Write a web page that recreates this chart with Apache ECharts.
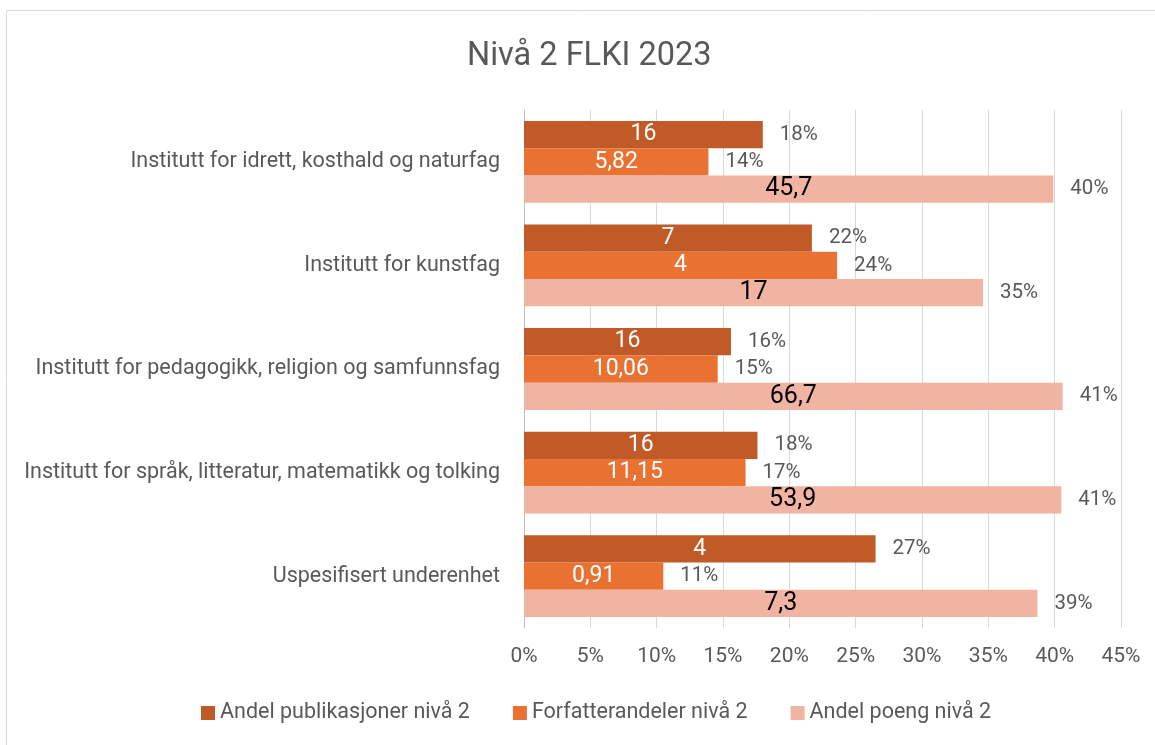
<!DOCTYPE html>
<html>
<head>
<meta charset="utf-8">
<script src="https://cdn.jsdelivr.net/npm/echarts@6/dist/echarts.min.js"></script>
<style>
  html, body { margin: 0; padding: 0; background: #fff; }
  #chart { width: 1155px; height: 745px; }
</style>
</head>
<body>
<div id="chart"></div>
<script>
var chart = echarts.init(document.getElementById('chart'));

var categories = [
    'Institutt for idrett, kosthald og naturfag',
    'Institutt for kunstfag',
    'Institutt for pedagogikk, religion og samfunnsfag',
    'Institutt for språk, litteratur, matematikk og tolking',
    'Uspesifisert underenhet'
];
var seriesNames = ['Andel publikasjoner nivå 2', 'Forfatterandeler nivå 2', 'Andel poeng nivå 2'];

// andeler (bar length)
var andelPublikasjoner = [0.180, 0.217, 0.156, 0.176, 0.265];
var andelForfatter = [0.139, 0.236, 0.146, 0.167, 0.105];
var andelPoeng = [0.399, 0.346, 0.406, 0.405, 0.387];

// antall (labels inside bars)
var antallPublikasjoner = [16, 7, 16, 16, 4];
var antallForfatter = [5.82, 4, 10.06, 11.15, 0.91];
var antallPoeng = [45.7, 17, 66.7, 53.9, 7.3];

var xTicks = [0, 0.05, 0.10, 0.15, 0.20, 0.25, 0.30, 0.35, 0.40, 0.45];

var colors = ['#C05B28', '#E97132', '#F1B3A2'];
var insideColors = ['#ffffff', '#ffffff', '#000000'];
var insideSizes = [23, 23, 25];
var textGray = '#595959';
var font = 'Roboto';

function komma(v) {
    return String(v).replace('.', ',');
}

var shares = [andelPublikasjoner, andelForfatter, andelPoeng];
var counts = [antallPublikasjoner, antallForfatter, antallPoeng];

var series = [];
shares.forEach(function (vals, i) {
    series.push({
        name: seriesNames[i],
        type: 'bar',
        stack: 's' + i,
        data: vals,
        itemStyle: { color: colors[i] },
        label: {
            show: true,
            position: 'inside',
            fontSize: insideSizes[i],
            fontFamily: font,
            color: insideColors[i],
            formatter: function (p) { return komma(counts[i][p.dataIndex]); }
        }
    });
});
// zero-width stacked bars that carry the percentage labels at bar ends
shares.forEach(function (vals, i) {
    series.push({
        name: seriesNames[i] + ' %',
        type: 'bar',
        stack: 's' + i,
        data: vals.map(function () { return 0; }),
        itemStyle: { color: 'transparent' },
        label: {
            show: true,
            position: 'right',
            distance: 17,
            fontSize: 20.5,
            fontFamily: font,
            color: textGray,
            formatter: function (p) { return Math.round(vals[p.dataIndex] * 100) + '%'; }
        }
    });
});

var option = {
    animation: false,
    backgroundColor: '#fff',
    title: {
        text: 'Nivå 2 FLKI 2023',
        left: 462,
        top: 35,
        textStyle: { fontSize: 32.5, fontWeight: 'normal', color: textGray, fontFamily: font }
    },
    graphic: [{
        type: 'rect',
        shape: { x: 6.5, y: 10.5, width: 1160, height: 760 },
        style: { fill: 'none', stroke: '#D9D9D9', lineWidth: 1 },
        silent: true
    }],
    legend: {
        data: seriesNames,
        bottom: 16,
        left: 196,
        itemWidth: 14,
        itemHeight: 14,
        itemGap: 43,
        icon: 'rect',
        textStyle: { fontSize: 21.5, color: textGray, fontFamily: font }
    },
    grid: { left: 524, right: 34, top: 110, bottom: 117 },
    xAxis: {
        type: 'value',
        min: xTicks[0],
        max: xTicks[xTicks.length - 1],
        interval: 0.05,
        axisLine: { show: false },
        axisTick: { show: false },
        splitLine: { lineStyle: { color: '#D9D9D9', width: 1 } },
        axisLabel: {
            fontSize: 21, color: textGray, fontFamily: font, margin: 18,
            formatter: function (v) { return Math.round(v * 100) + '%'; }
        }
    },
    yAxis: {
        type: 'category',
        inverse: true,
        data: categories,
        axisLine: { show: true, lineStyle: { color: '#BFBFBF' } },
        axisTick: { show: false },
        axisLabel: { fontSize: 21.5, color: textGray, fontFamily: font, margin: 24 }
    },
    series: series.map(function (s) {
        s.barGap = '0%';
        s.barCategoryGap = '21%';
        return s;
    })
};

chart.setOption(option);
</script>
</body>
</html>
